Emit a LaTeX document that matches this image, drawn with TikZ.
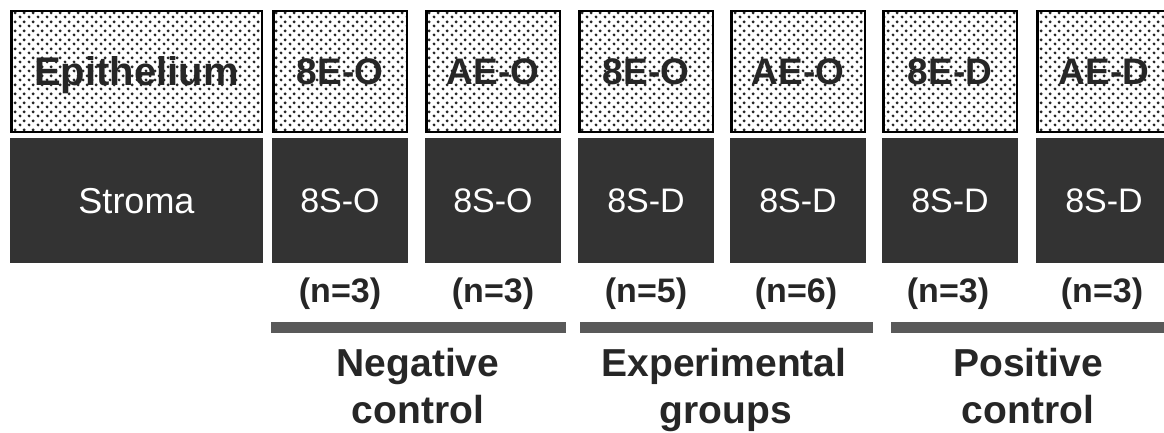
\documentclass[tikz,border=0pt]{standalone}
\usepackage{fontspec}
\setmainfont{Liberation Sans}
\usetikzlibrary{patterns.meta}
\tikzdeclarepattern{
  name=bigdots, type=uncolored,
  bottom left={(0pt,0pt)}, top right={(9pt,9pt)}, tile size={(9pt,9pt)},
  code={\fill (2.25pt,2.25pt) circle (1.7pt); \fill (6.75pt,6.75pt) circle (1.7pt);}
}
\begin{document}
\begin{tikzpicture}[x=1pt,y=1pt,
  epibox/.style={draw=black, line width=2.5pt, preaction={fill=white},
    pattern=bigdots, pattern color=black!85, minimum width=133.5pt,
    minimum height=120.5pt, inner sep=0pt, text depth=0pt, text=black!85,
    font=\fontsize{37}{44}\selectfont\bfseries},
  strbox/.style={fill=black!80, minimum width=136pt, minimum height=125pt,
    inner sep=0pt, text depth=0pt, text=white,
    font=\fontsize{34}{40}\selectfont},
  ncount/.style={anchor=base, text=black!85, font=\fontsize{34}{40}\selectfont\bfseries},
  grplabel/.style={anchor=base, text=black!85, font=\fontsize{39}{46}\selectfont\bfseries},
  grpbar/.style={fill=black!65, draw=none}
]
\useasboundingbox (0,0) rectangle (1164,432);
\clip (0,0) rectangle (1164,432);

% header column
\node[epibox, minimum width=250.5pt, font=\fontsize{40}{46}\selectfont\bfseries] (epi) at (136.5,360.5) {Epithelium};
\node[strbox, minimum width=253pt, font=\fontsize{36}{42}\selectfont] (str) at (136.5,231.5) {Stroma};

% epithelium boxes
\node[epibox] (e1) at (340,360.5) {8E-O};
\node[epibox] (e2) at (493,360.5) {AE-O};
\node[epibox] (e3) at (646,360.5) {8E-O};
\node[epibox] (e4) at (798,360.5) {AE-O};
\node[epibox] (e5) at (950,360.5) {8E-D};
\node[epibox] (e6) at (1104,360.5) {AE-D};

% stroma boxes
\node[strbox] (s1) at (340,231.5) {8S-O};
\node[strbox] (s2) at (493,231.5) {8S-O};
\node[strbox] (s3) at (646,231.5) {8S-D};
\node[strbox] (s4) at (798,231.5) {8S-D};
\node[strbox] (s5) at (950,231.5) {8S-D};
\node[strbox] (s6) at (1104,231.5) {8S-D};

% counts
\node[ncount] (n1) at (340,130) {(n=3)};
\node[ncount] (n2) at (493,130) {(n=3)};
\node[ncount] (n3) at (646,130) {(n=5)};
\node[ncount] (n4) at (796,130) {(n=6)};
\node[ncount] (n5) at (948,130) {(n=3)};
\node[ncount] (n6) at (1102,130) {(n=3)};

% group bars
\fill[grpbar] (271,99) rectangle (566,110);
\fill[grpbar] (580,99) rectangle (873,110);
\fill[grpbar] (891,99) rectangle (1170,110);

% group labels
\node[grplabel] (g1a) at (418,56) {Negative};
\node[grplabel] (g1b) at (418,9) {control};
\node[grplabel] (g2a) at (724,56) {Experimental};
\node[grplabel] (g2b) at (726,9) {groups};
\node[grplabel] (g3a) at (1028,56) {Positive};
\node[grplabel] (g3b) at (1028,9) {control};
\end{tikzpicture}
\end{document}
